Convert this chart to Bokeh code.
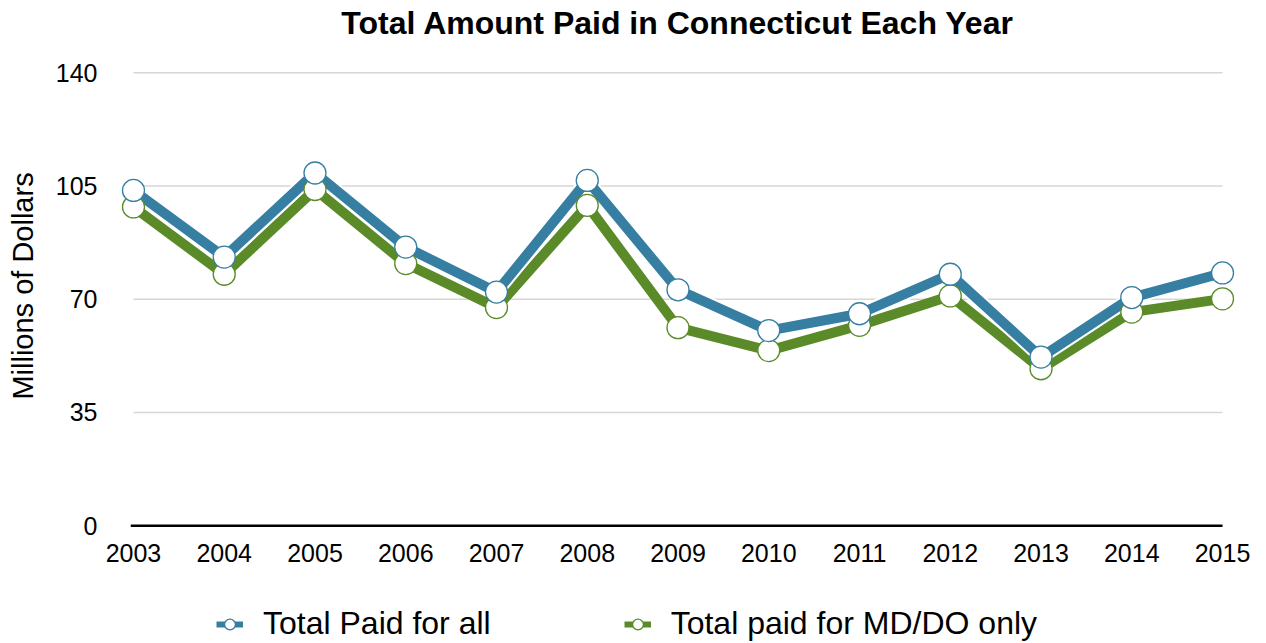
from bokeh.plotting import figure
from bokeh.models import Range1d, Legend, LegendItem, ColumnDataSource, FixedTicker
from bokeh.layouts import column
from bokeh.embed import file_html
from bokeh.resources import INLINE

# ---- data ----
years = [2003, 2004, 2005, 2006, 2007, 2008, 2009, 2010, 2011, 2012, 2013, 2014, 2015]
total_all = [103.6, 83.0, 109.0, 86.1, 72.2, 106.7, 72.9, 60.3, 65.5, 77.7, 52.1, 70.5, 78.1]
total_md = [98.5, 77.7, 103.9, 81.0, 67.4, 99.0, 61.2, 54.1, 61.9, 71.0, 48.5, 66.0, 70.1]
y_ticks = [0, 35, 70, 105, 140]
series_names = ["Total Paid for all", "Total paid for MD/DO only"]

BLUE = "#367fa3"
GREEN = "#5a8b28"
FONT = "Liberation Sans"

p = figure(frame_width=1119, frame_height=489, output_backend="svg", toolbar_location=None,
           x_range=Range1d(2002.835, 2015.165), y_range=Range1d(-1.5, 149.64),
           min_border_left=118, min_border_right=17, min_border_top=41, min_border_bottom=50)
p.outline_line_color = None
p.xgrid.visible = False
p.ygrid.visible = False

p.title.text = "Total Amount Paid in Connecticut Each Year"
p.title.align = "center"
p.title.text_font = FONT
p.title.text_font_size = "32px"
p.title.text_font_style = "bold"
p.title.text_color = "black"
p.title.standoff = 2

# gridlines (across the year span only)
grid_y = y_ticks[1:]
p.segment(x0=[years[0]] * len(grid_y), x1=[years[-1]] * len(grid_y), y0=grid_y, y1=grid_y,
          line_color="#d6d6d6", line_width=1.5)
# baseline
p.segment(x0=[years[0] - 0.03], x1=[years[-1]], y0=[y_ticks[0]], y1=[y_ticks[0]],
          line_color="black", line_width=2.5)

src = ColumnDataSource(dict(x=years, a=total_all, m=total_md))
p.line("x", "m", source=src, line_color=GREEN, line_width=10, line_join="round")
p.line("x", "a", source=src, line_color="white", line_width=14, line_join="round")
p.line("x", "a", source=src, line_color=BLUE, line_width=10, line_join="round")
p.scatter("x", "m", source=src, size=22, fill_color="white", line_color=GREEN, line_width=1.3)
p.scatter("x", "a", source=src, size=22, fill_color="white", line_color=BLUE, line_width=1.3)

# axes
p.xaxis.ticker = FixedTicker(ticks=years)
p.yaxis.ticker = FixedTicker(ticks=y_ticks)
for ax in (p.xaxis[0], p.yaxis[0]):
    ax.axis_line_color = None
    ax.major_tick_line_color = None
    ax.minor_tick_line_color = None
    ax.major_label_text_font = FONT
    ax.major_label_text_font_size = "25px"
    ax.major_label_text_color = "black"
p.xaxis.major_label_standoff = 7
p.yaxis.major_label_standoff = 15
p.yaxis.axis_label = "Millions of Dollars"
p.yaxis.axis_label_text_font = FONT
p.yaxis.axis_label_text_font_size = "29px"
p.yaxis.axis_label_text_font_style = "normal"
p.yaxis.axis_label_text_color = "black"
p.yaxis.axis_label_standoff = 14

# ---- legend strip (separate figure below the chart) ----
lp = figure(width=1254, height=62, output_backend="svg", toolbar_location=None,
            x_axis_type=None, y_axis_type=None, min_border=0,
            x_range=Range1d(0, 1), y_range=Range1d(0, 1))
lp.outline_line_color = None
lp.xgrid.visible = False
lp.ygrid.visible = False

nan = float("nan")
proxy = ColumnDataSource(dict(x=[nan], y=[nan]))
la = lp.line("x", "y", source=proxy, line_color=BLUE, line_width=6)
sa = lp.scatter("x", "y", source=proxy, size=12, fill_color="white", line_color=BLUE, line_width=1.3)
lm = lp.line("x", "y", source=proxy, line_color=GREEN, line_width=6)
sm = lp.scatter("x", "y", source=proxy, size=12, fill_color="white", line_color=GREEN, line_width=1.3)

legend = Legend(items=[LegendItem(label=series_names[0], renderers=[la, sa]),
                       LegendItem(label=series_names[1], renderers=[lm, sm])],
                orientation="horizontal", location=(98, 0),
                label_text_font=FONT, label_text_font_size="32px", label_text_color="black",
                glyph_width=27, glyph_height=30, label_standoff=20, spacing=133,
                padding=0, margin=0, border_line_color=None, background_fill_alpha=0)
lp.add_layout(legend, "center")

layout = column(p, lp, spacing=0)
open("out.html", "w").write(file_html(layout, INLINE))
